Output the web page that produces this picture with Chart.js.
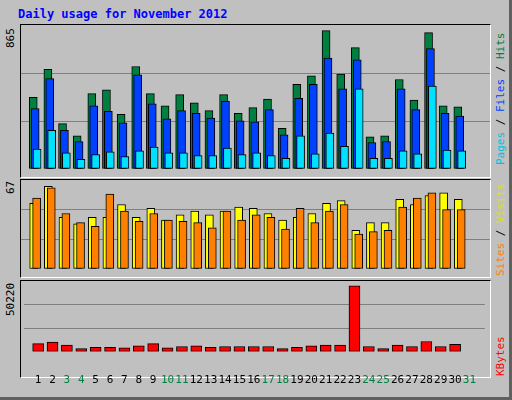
<!DOCTYPE html>
<html>
<head>
<meta charset="utf-8">
<script src="https://cdn.jsdelivr.net/npm/chart.js@4.4.1/dist/chart.umd.min.js"></script>
<style>
  body { margin: 0; background: #c0c0c0; width: 512px; height: 400px; overflow: hidden; font-family: "DejaVu Sans Mono", monospace; }
  #frame { position: absolute; left: 0; top: 0; width: 509px; height: 397px; border-right: 3px solid #606060; border-bottom: 3px solid #606060; }
  .panel { position: absolute; left: 20px; width: 469px; border-top: 1px solid #000; border-left: 1px solid #000; border-right: 1px solid #fff; border-bottom: 1px solid #fff; }
  canvas { position: absolute; }
  .title { position: absolute; left: 18px; top: 7px; color: #0000ff; font-weight: bold; font-size: 12px; }
  .vt { position: absolute; transform-origin: left top; transform: rotate(-90deg); font-size: 11px; white-space: nowrap; }
</style>
</head>
<body>
<div id="frame"></div>
<div class="title">Daily usage for November 2012</div>
<div class="panel" style="top:24px;height:152px"></div>
<div class="panel" style="top:179px;height:97px"></div>
<div class="panel" style="top:280px;height:96px"></div>
<canvas id="c1" width="469" height="152" style="left:21px;top:25px"></canvas>
<canvas id="c2" width="469" height="97" style="left:21px;top:180px"></canvas>
<canvas id="c3" width="469" height="120" style="left:21px;top:281px"></canvas>
<div class="vt" style="left:4px;top:48px;color:#000">865</div>
<div class="vt" style="left:4px;top:194px;color:#000">67</div>
<div class="vt" style="left:4px;top:316px;color:#000">50220</div>
<div class="vt" style="left:494px;top:165px"><span style="color:#00c0e0">Pages</span> / <span style="color:#0040ff">Files</span> / <span style="color:#008040">Hits</span></div>
<div class="vt" style="left:494px;top:276px"><span style="color:#ff8000">Sites</span> / <span style="color:#e0e000">Visits</span></div>
<div class="vt" style="left:494px;top:376px;color:#ff0000">KBytes</div>
<script>
const days = Array.from({ length: 31 }, (_, i) => i + 1);
const weekend = [3, 4, 10, 11, 17, 18, 24, 25, 31];

const hits = [440, 613, 279, 204, 463, 486, 336, 630, 463, 388, 457, 406, 359, 457, 342, 377, 429, 250, 521, 573, 850, 584, 746, 198, 204, 550, 423, 838, 388, 382];
const files = [371, 555, 238, 169, 388, 354, 284, 579, 400, 308, 359, 342, 313, 417, 296, 290, 365, 210, 434, 521, 682, 492, 671, 163, 169, 492, 365, 740, 342, 325];
const pages = [123, 238, 100, 60, 88, 106, 77, 111, 135, 100, 100, 83, 83, 129, 88, 100, 83, 65, 204, 94, 221, 140, 492, 65, 65, 111, 94, 509, 117, 111];
const visits = [51, 64, 40, 35, 40, 40, 50, 40, 47, 38, 42, 45, 42, 45, 48, 47, 43, 38, 40, 43, 51, 53, 30, 36, 36, 54, 50, 57, 59, 54];
const sites = [55, 63, 43, 36, 33, 58, 45, 37, 43, 38, 37, 36, 32, 45, 38, 42, 40, 31, 47, 36, 45, 50, 27, 29, 30, 48, 55, 59, 46, 46];
const kbytes = [5970, 7024, 4917, 2283, 3336, 3336, 2810, 4390, 5970, 2810, 3863, 4390, 3336, 3863, 3863, 3863, 3863, 2283, 3336, 4390, 4917, 4917, 48114, 3863, 2283, 4917, 3863, 7551, 3863, 5444];

function pts(arr, off) {
  return arr.map((v, i) => ({ x: days[i] + off, y: v }));
}

// first dataset sits behind, later ones drawn over it
function bar(label, arr, off, color, w, order) {
  return { label, data: pts(arr, off), backgroundColor: color, borderColor: "#000", borderWidth: 1, borderSkipped: false, barThickness: w, grouped: false, order };
}

function makeChart(id, datasets, max, showX) {
  new Chart(document.getElementById(id), {
    type: "bar",
    data: { datasets },
    options: {
      responsive: false,
      animation: false,
      layout: { padding: 0 },
      plugins: { legend: { display: false }, tooltip: { enabled: false } },
      scales: {
        x: {
          type: "linear", min: 0.55, max: 31.55,
          grid: { display: false }, border: { display: false },
          afterBuildTicks: (s) => { s.ticks = days.map((d) => ({ value: d })); },
          ticks: {
            display: showX, autoSkip: false, maxRotation: 0, padding: 14,
            font: { family: "DejaVu Sans Mono", size: 11 },
            color: (c) => weekend.includes(c.tick.value) ? "#008040" : "#000",
          },
        },
        y: {
          min: 0, max,
          afterBuildTicks: (s) => { s.ticks = [0, max / 3, (2 * max) / 3, max].map((v) => ({ value: v })); },
          ticks: { display: false },
          grid: { color: (c) => (c.index === 1 || c.index === 2) ? "#808080" : "rgba(0,0,0,0)", lineWidth: 1, drawTicks: false },
          border: { display: false },
        },
      },
    },
  });
}

makeChart("c1", [
  bar("Hits", hits, -0.13, "#008040", 8, 3),
  bar("Files", files, 0.0, "#0040ff", 8, 2),
  bar("Pages", pages, 0.13, "#00e0ff", 8, 1),
], 885, false);

makeChart("c2", [
  bar("Visits", visits, -0.1, "#ffff00", 8, 2),
  bar("Sites", sites, 0.1, "#ff8000", 8, 1),
], 69, false);

makeChart("c3", [
  bar("KBytes", kbytes, 0.0, "#ff0000", 11, 1),
], 50220 * 1.03, true);
</script>
</body>
</html>
